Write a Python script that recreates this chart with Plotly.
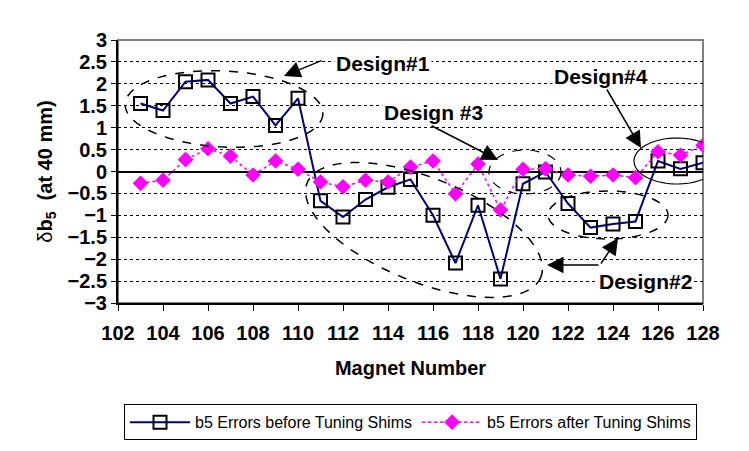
import numpy as np
import plotly.graph_objects as go

magnet = list(range(103, 129))
before = [1.55, 1.39, 2.05, 2.09, 1.55, 1.71, 1.05, 1.67, -0.67, -1.04, -0.64, -0.36, -0.18,
          -1.0, -2.09, -0.77, -2.45, -0.28, -0.01, -0.73, -1.28, -1.2, -1.14, 0.24, 0.06, 0.2]
after = [-0.27, -0.2, 0.27, 0.52, 0.35, -0.08, 0.24, 0.05, -0.24, -0.35, -0.2, -0.24, 0.1,
         0.24, -0.51, 0.17, -0.88, 0.05, 0.06, -0.08, -0.11, -0.08, -0.14, 0.45, 0.37, 0.6]
x_ticks = list(range(102, 129, 2))

# page offset of the figure inside the browser window
OFF = 8
# plot area in window pixels, as measured on the reference
L, R, T, B = 118, 703, 40, 303
def dx(px):
    return 102 + (px - L) * 26 / (R - L)
def dy(py):
    return 3 - (py - T) * 6 / (B - T)

def ellipse(cx, cy, a, b, ang=0):
    t = np.linspace(0, 2 * np.pi, 80)
    c, s = np.cos(np.radians(ang)), np.sin(np.radians(ang))
    px = cx + a * np.cos(t) * c - b * np.sin(t) * s
    py = cy + a * np.cos(t) * s + b * np.sin(t) * c
    pts = ["%.3f,%.3f" % (dx(u), dy(v)) for u, v in zip(px, py)]
    return "M " + " L ".join(pts) + " Z"

fig = go.Figure()
fig.add_trace(go.Scatter(x=magnet, y=before, mode="lines+markers",
                         name="b5 Errors before Tuning Shims",
                         line=dict(color="#000080", width=2),
                         marker=dict(symbol="square-open", size=13, color="black",
                                     line=dict(width=2, color="black"))))
fig.add_trace(go.Scatter(x=magnet, y=after, mode="lines+markers",
                         name="b5 Errors after Tuning Shims",
                         line=dict(color="#FF00FF", width=1.5, dash="dot"),
                         marker=dict(symbol="diamond", size=12, color="#FF00FF")))

shapes = [
    dict(type="rect", xref="paper", yref="paper", x0=0, x1=1, y0=0, y1=1,
         line=dict(color="#808080", width=2), layer="below"),
    dict(type="path", path=ellipse(224, 109, 99, 38, 3), line=dict(color="black", width=1.5, dash="dash")),
    dict(type="path", path=ellipse(424, 230, 126, 52, 22), line=dict(color="black", width=1.5, dash="dash")),
    dict(type="path", path=ellipse(525, 172, 36, 22), line=dict(color="black", width=1.2, dash="dash")),
    dict(type="path", path=ellipse(608, 215, 60, 24), line=dict(color="black", width=1.5, dash="dash")),
    dict(type="path", path=ellipse(677, 161, 43, 23), line=dict(color="black", width=1.2)),
]

tfont = dict(family="Liberation Sans, Arial", size=21, color="black")
annotations = [
    dict(x=dx(383), y=dy(63), text="<b>Design#1</b>", showarrow=False, font=tfont, bgcolor="white"),
    dict(x=dx(433), y=dy(112), text="<b>Design #3</b>", showarrow=False, font=tfont, bgcolor="white"),
    dict(x=dx(601), y=dy(76), text="<b>Design#4</b>", showarrow=False, font=tfont, bgcolor="white"),
    dict(x=dx(645), y=dy(281), text="<b>Design#2</b>", showarrow=False, font=tfont, bgcolor="white"),
]
arrows = [(284, 76, 39, -16), (498, 160, -68, -35), (641, 148, -35, -60),
          (547, 265, 53, 0), (618, 238, -18, 27)]
for tx, ty, ax, ay in arrows:
    annotations.append(dict(x=dx(tx), y=dy(ty), ax=ax, ay=ay, text="", showarrow=True,
                            arrowhead=2, arrowsize=2.2, arrowwidth=1.5, arrowcolor="black"))

tick_font = dict(size=20, family="Liberation Sans, Arial", weight="bold", color="black")

fig.update_layout(
    width=749, height=451,
    margin=dict(l=L - OFF, r=749 - R + OFF, t=T - OFF, b=451 - B + OFF),
    paper_bgcolor="white", plot_bgcolor="white",
    font=dict(family="Liberation Sans, Arial", color="black"),
    shapes=shapes, annotations=annotations,
    showlegend=True,
    legend=dict(orientation="h", x=0.5, xanchor="center", y=-0.385, yanchor="top",
                bordercolor="black", borderwidth=1,
                font=dict(family="Liberation Sans, Arial", size=16, color="black"),
                itemwidth=60),
    xaxis=dict(range=[102, 128], tickvals=x_ticks, showgrid=False, zeroline=False,
               showline=True, linecolor="black", linewidth=2,
               ticks="outside", ticklen=6, tickcolor="black", ticklabelstandoff=5,
               tickfont=tick_font,
               title=dict(text="<b>Magnet Number</b>", font=dict(size=20), standoff=18)),
    yaxis=dict(range=[-3, 3], dtick=0.5, showgrid=True, gridcolor="black", gridwidth=1,
               griddash="3px,3px", zeroline=True, zerolinecolor="black", zerolinewidth=2,
               showline=True, linecolor="black", linewidth=2,
               ticks="outside", ticklen=5, tickcolor="black",
               tickfont=tick_font,
               title=dict(text="δ<b>b<sub>5</sub>  (at 40 mm)</b>", font=dict(size=20), standoff=10)),
)

fig.write_html("out.html")
